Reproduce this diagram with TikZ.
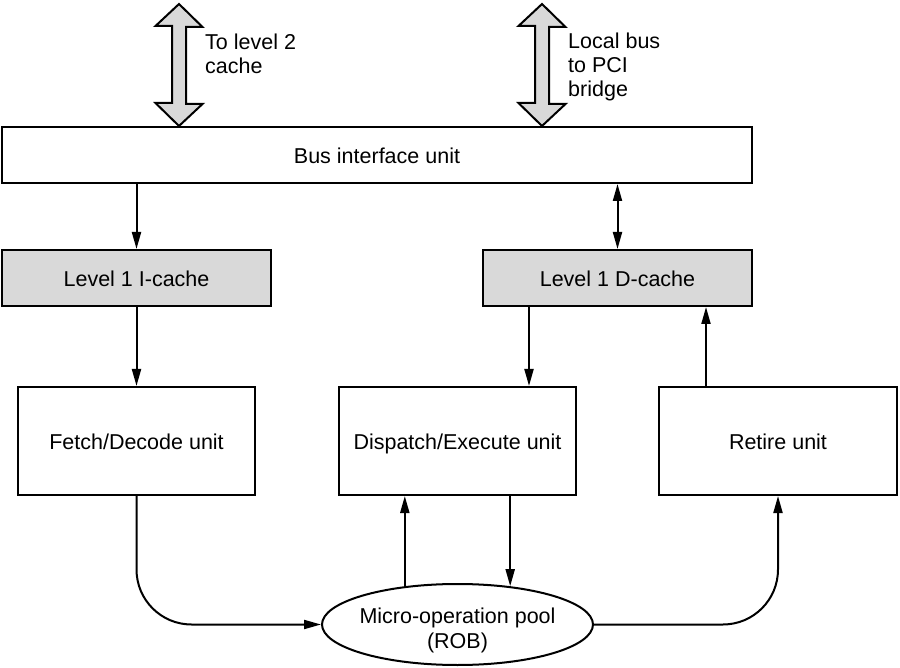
\documentclass[tikz,border=0pt]{standalone}
\usepackage{fontspec}
\setmainfont{Liberation Sans}
\usetikzlibrary{arrows.meta,shapes.geometric,calc}
\definecolor{boxgray}{gray}{0.85}
\begin{document}
\begin{tikzpicture}[x=1pt,y=-1pt,
  every node/.style={font=\fontsize{21.5}{24}\selectfont},
  unitbox/.style={draw,line width=2pt,inner sep=0pt,align=center,text height=18.5pt,text depth=1.5pt},
  cachebox/.style={unitbox,fill=boxgray},
  arr/.style={line width=2pt,-{Triangle[length=17pt,width=9pt]}},
  dbl/.style={line width=2pt,{Triangle[length=17pt,width=9pt]}-{Triangle[length=17pt,width=9pt]}},
  bigarrow/.style={draw,line width=2pt,fill=boxgray,line join=miter},
  lbl/.style={anchor=north west,inner sep=0pt,align=left}]
\useasboundingbox (0,0) rectangle (900,668);

\node[unitbox,minimum width=750pt,minimum height=56pt] (bus) at (377,155) {Bus interface unit};
\node[cachebox,minimum width=269pt,minimum height=56pt] (icache) at (136.5,278) {Level 1 I-cache};
\node[cachebox,minimum width=269pt,minimum height=56pt] (dcache) at (617.5,278) {Level 1 D-cache};
\node[unitbox,minimum width=237pt,minimum height=108pt] (fetch) at (136.5,441) {Fetch/Decode unit};
\node[unitbox,minimum width=237pt,minimum height=108pt] (disp) at (457.5,441) {Dispatch/Execute unit};
\node[unitbox,minimum width=238pt,minimum height=108pt] (retire) at (778,441) {Retire unit};
\node[ellipse,draw,line width=2pt,minimum width=271pt,minimum height=81pt,inner sep=0pt] (pool) at (457.5,624.5) {};
\node[align=center,inner sep=0pt,font=\fontsize{21.5}{25}\selectfont] (pooltext) at ($(pool.center)+(0,6)$) {Micro-operation pool\\(ROB)};

% top block arrows
\coordinate (l2top) at (179,4);
\coordinate (l2bot) at (bus.north -| l2top);
\draw[bigarrow] (l2top) -- ++(23.5,23) -- ++(-16.5,0) -- ++(0,77) -- ++(16.5,0) -- (l2bot)
  -- ++(-23.5,-23) -- ++(16.5,0) -- ++(0,-77) -- ++(-16.5,0) -- cycle;
\coordinate (pcitop) at (542,4);
\coordinate (pcibot) at (bus.north -| pcitop);
\draw[bigarrow] (pcitop) -- ++(23.5,23) -- ++(-16.5,0) -- ++(0,77) -- ++(16.5,0) -- (pcibot)
  -- ++(-23.5,-23) -- ++(16.5,0) -- ++(0,-77) -- ++(-16.5,0) -- cycle;
\node[lbl] (l2lbl) at (205,34) {To level 2\\cache};
\node[lbl] (pcilbl) at (568,33) {Local bus\\to PCI\\bridge};

% connectors
\draw[arr] (bus.south -| icache.north) -- (icache.north);
\draw[dbl] (bus.south -| dcache.north) -- (dcache.north);
\draw[arr] (icache.south) -- (fetch.north);
\coordinate (dx) at (529,0);
\coordinate (rx) at (706,0);
\draw[arr] (dcache.south -| dx) -- (disp.north -| dx);
\draw[arr] (retire.north -| rx) -- (dcache.south -| rx);
\draw[arr,rounded corners=55pt] (fetch.south) |- (pool.west);
\draw[arr,rounded corners=55pt] (pool.east) -| (retire.south);
\draw[arr] (pool.144) -- (pool.144 |- disp.south);
\draw[arr] (disp.south -| pool.36) -- (pool.36);
\end{tikzpicture}
\end{document}
